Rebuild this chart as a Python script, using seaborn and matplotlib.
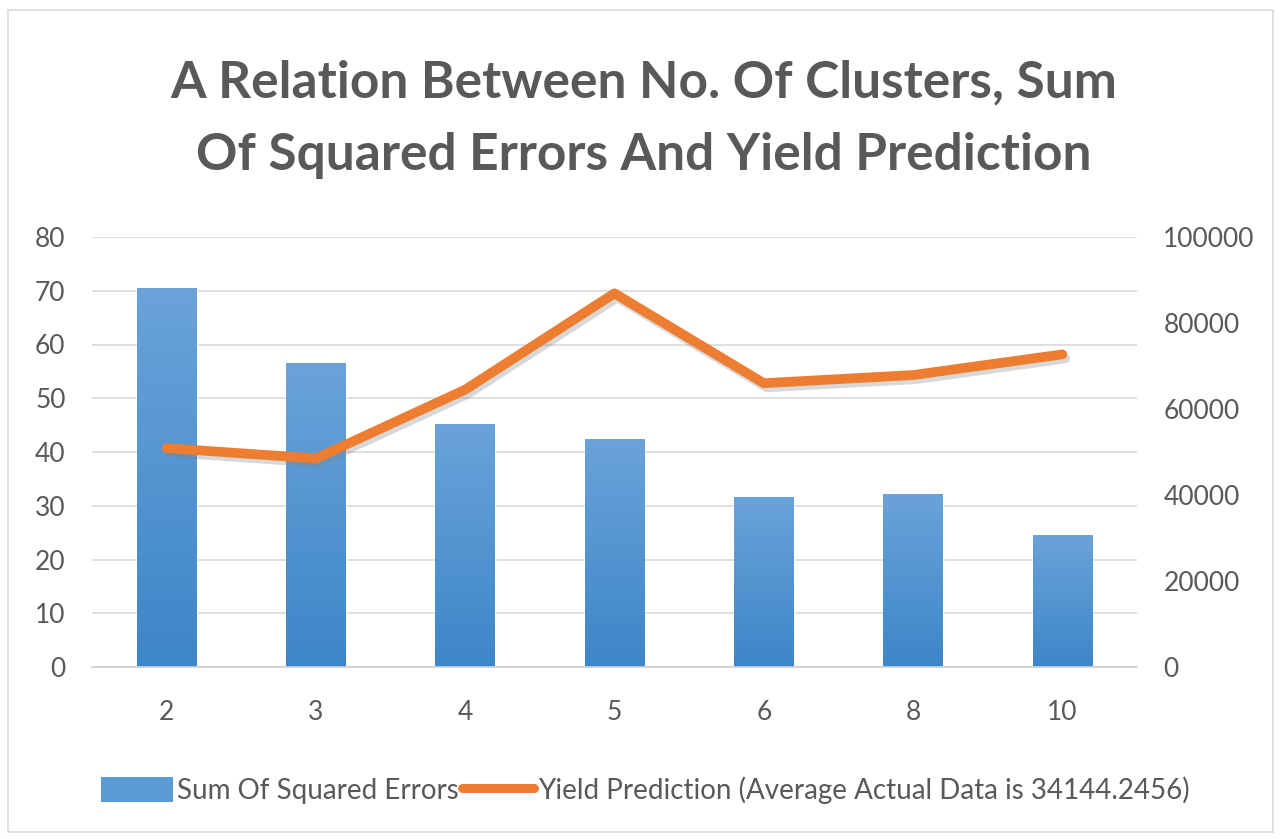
import numpy as np
import matplotlib
matplotlib.use("Agg")
import matplotlib.pyplot as plt
import matplotlib.patheffects as pe
from matplotlib.patches import Patch, Rectangle
from matplotlib.lines import Line2D
from matplotlib.colors import LinearSegmentedColormap
import seaborn as sns

categories = ["2", "3", "4", "5", "6", "8", "10"]
sse = [70.6, 56.5, 45.2, 42.4, 31.6, 32.1, 24.5]
yield_pred = [50900, 48500, 64500, 86900, 66000, 67900, 72700]
left_ticks = [0, 10, 20, 30, 40, 50, 60, 70, 80]
right_ticks = [0, 20000, 40000, 60000, 80000, 100000]

title = "A Relation Between No. Of Clusters, Sum\nOf Squared Errors And Yield Prediction"
bar_label = "Sum Of Squared Errors"
line_label = "Yield Prediction (Average Actual Data is 34144.2456)"

sns.set_theme(style="white")
plt.rcParams["font.family"] = ["Lato", "DejaVu Sans"]

GRAY = "#595959"
BLUE = "#5B9BD5"
ORANGE = "#ED7D31"

fig = plt.figure(figsize=(12.83, 8.39), dpi=100)
fig.patch.set_facecolor("white")
ax = fig.add_axes([92/1283, 1-667/839, (1137-92)/1283, (667-237)/839])

sns.barplot(x=categories, y=sse, color=BLUE, width=0.4, ax=ax, saturation=1)
ax.set_ylim(0, 80)
ax.set_yticks(left_ticks)
ax.set_xlim(-0.5, len(categories)-0.5)
ax.grid(axis="y", color="#d9d9d9", lw=1.2)
ax.set_axisbelow(True)
for s in ["top", "right", "left"]:
    ax.spines[s].set_visible(False)
ax.spines["bottom"].set_color("#d0d0d0")
ax.spines["bottom"].set_linewidth(1.2)
ax.tick_params(axis="both", length=0, colors=GRAY, labelsize=19)
ax.tick_params(axis="y", pad=19)
ax.tick_params(axis="x", pad=24)

# vertical gradient inside each bar (lighter top, darker bottom)
cmap = LinearSegmentedColormap.from_list("barg", ["#3d86c8", "#6aa3d9"])
grad = np.linspace(0, 1, 256).reshape(-1, 1)
for p in list(ax.patches):
    x0, y0 = p.get_x(), p.get_y()
    w, h = p.get_width(), p.get_height()
    im = ax.imshow(grad, cmap=cmap, origin="lower", aspect="auto",
                   extent=(x0, x0 + w, y0, y0 + h), zorder=p.get_zorder())
    im.set_clip_path(p)
    p.set_facecolor("none")
ax.set_xlim(-0.5, len(categories)-0.5)
ax.set_ylim(0, 80)

ax2 = ax.twinx()
sns.lineplot(x=np.arange(len(categories)), y=yield_pred, color=ORANGE, lw=7,
             ax=ax2, sort=False,
             path_effects=[pe.SimpleLineShadow(offset=(2, -3), alpha=0.3,
                                               shadow_color="gray"), pe.Normal()])
ax2.set_ylim(0, 100000)
ax2.set_yticks(right_ticks)
ax2.set_xlim(-0.5, len(categories)-0.5)
for s in ["top", "right", "left", "bottom"]:
    ax2.spines[s].set_visible(False)
ax2.tick_params(axis="y", length=0, colors=GRAY, labelsize=19, pad=19)
ax2.grid(False)

fig.text(0.502, 0.858, title, ha="center", va="center", fontsize=37,
         fontweight="bold", color=GRAY, linespacing=1.68)

handles = [Patch(facecolor=BLUE, edgecolor="none"),
           Line2D([0], [0], color=ORANGE, lw=6.5)]
fig.legend(handles, [bar_label, line_label], loc="center", ncol=2,
           bbox_to_anchor=(0.503, 0.058), frameon=False, fontsize=20,
           labelcolor=GRAY, handlelength=2.6, handleheight=1.0,
           handletextpad=0.15, columnspacing=0.1)

fig.patches.append(Rectangle((8/1283, 1-832/839), 1265/1283, 822/839,
                             transform=fig.transFigure, fill=False,
                             edgecolor="#d9d9d9", lw=1.2))

fig.savefig("out.png", dpi=100)
